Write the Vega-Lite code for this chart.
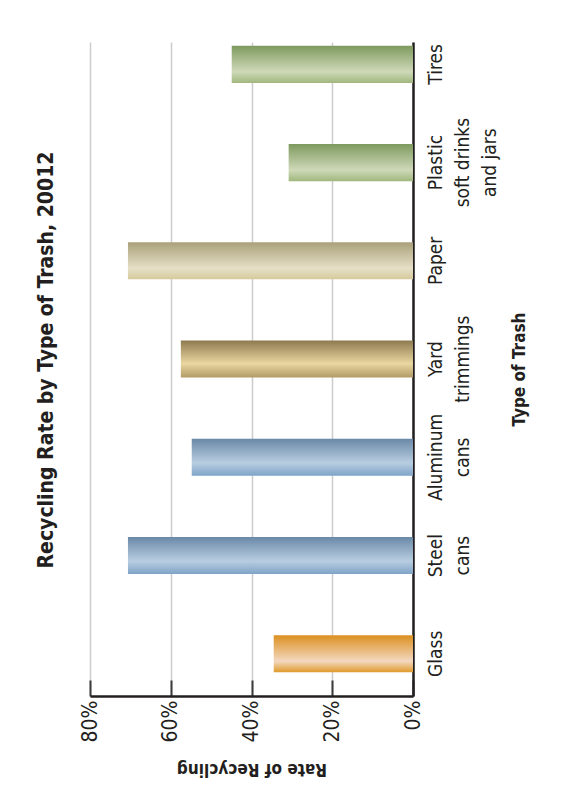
{
  "$schema": "https://vega.github.io/schema/vega-lite/v6.json",
  "width": 323,
  "height": 654,
  "autosize": {"type": "none"},
  "padding": {"left": 90, "top": 42, "right": 148, "bottom": 103},
  "background": "white",
  "config": {
    "view": {"stroke": null},
    "font": "DejaVu Sans Condensed, Liberation Sans, sans-serif"
  },
  "title": {
    "text": "Recycling Rate by Type of Trash, 20012",
    "orient": "left",
    "anchor": "middle",
    "frame": "group",
    "fontSize": 21,
    "fontWeight": "bold",
    "color": "#231f20",
    "offset": 22,
    "dx": 9
  },
  "data": {
    "values": [
      {"type": "Glass", "rate": 34.5},
      {"type": "Steel cans", "rate": 70.6},
      {"type": "Aluminum cans", "rate": 54.8},
      {"type": "Yard trimmings", "rate": 57.5},
      {"type": "Paper", "rate": 70.6},
      {"type": "Plastic soft drinks and jars", "rate": 30.8},
      {"type": "Tires", "rate": 44.9}
    ]
  },
  "encoding": {
    "y": {
      "field": "type",
      "type": "nominal",
      "scale": {
        "domain": ["Tires", "Plastic soft drinks and jars", "Paper", "Yard trimmings", "Aluminum cans", "Steel cans", "Glass"],
        "paddingInner": 0.623,
        "paddingOuter": 0.14,
        "align": 0.14
      },
      "axis": {
        "orient": "right",
        "title": "Type of Trash",
        "titleAngle": 270,
        "titleBaseline": "top",
        "titleFontSize": 17,
        "titleFontWeight": "bold",
        "titleColor": "#231f20",
        "titlePadding": 12,
        "domain": true,
        "domainColor": "#231f20",
        "domainWidth": 2.5,
        "ticks": false,
        "grid": false,
        "labelAngle": 270,
        "labelAlign": "center",
        "labelBaseline": "top",
        "labelPadding": 13,
        "labelFontSize": 19,
        "labelLineHeight": 27,
        "labelColor": "#231f20",
        "labelExpr": "datum.label == 'Plastic soft drinks and jars' ? ['Plastic', 'soft drinks', 'and jars'] : split(datum.label, ' ')"
      }
    },
    "x": {
      "field": "rate",
      "type": "quantitative",
      "scale": {"domain": [0, 80], "reverse": true, "nice": false},
      "axis": {
        "orient": "bottom",
        "title": "Rate of Recycling",
        "titleAngle": 180,
        "titleBaseline": "bottom",
        "titleFontSize": 17,
        "titleFontWeight": "bold",
        "titleColor": "#231f20",
        "titlePadding": 18,
        "values": [0, 20, 40, 60, 80],
        "labelExpr": "datum.value + '%'",
        "labelAngle": 270,
        "labelAlign": "right",
        "labelBaseline": "middle",
        "labelFontSize": 21,
        "labelColor": "#231f20",
        "labelPadding": 20,
        "domainColor": "#231f20",
        "domainWidth": 2.5,
        "tickColor": "#3a3a3a",
        "tickWidth": 2,
        "tickSize": -16,
        "grid": true,
        "gridColor": "#cccccc",
        "gridWidth": 1.5
      }
    }
  },
  "layer": [
    {
      "transform": [{"filter": "datum.type == 'Glass'"}],
      "mark": {"type": "bar", "color": {"gradient": "linear", "x1": 0, "y1": 0, "x2": 0, "y2": 1, "stops": [
        {"offset": 0, "color": "#dc9020"}, {"offset": 0.7, "color": "#f3d8c0"}, {"offset": 1, "color": "#df9a28"}]}}
    },
    {
      "transform": [{"filter": "datum.type == 'Steel cans' || datum.type == 'Aluminum cans'"}],
      "mark": {"type": "bar", "color": {"gradient": "linear", "x1": 0, "y1": 0, "x2": 0, "y2": 1, "stops": [
        {"offset": 0, "color": "#6a89a7"}, {"offset": 0.65, "color": "#b8cde1"}, {"offset": 1, "color": "#7ea3c7"}]}}
    },
    {
      "transform": [{"filter": "datum.type == 'Yard trimmings'"}],
      "mark": {"type": "bar", "color": {"gradient": "linear", "x1": 0, "y1": 0, "x2": 0, "y2": 1, "stops": [
        {"offset": 0, "color": "#8e7a50"}, {"offset": 0.62, "color": "#ead6a0"}, {"offset": 1, "color": "#b09a66"}]}}
    },
    {
      "transform": [{"filter": "datum.type == 'Paper'"}],
      "mark": {"type": "bar", "color": {"gradient": "linear", "x1": 0, "y1": 0, "x2": 0, "y2": 1, "stops": [
        {"offset": 0, "color": "#aaa07a"}, {"offset": 0.7, "color": "#e6e0c7"}, {"offset": 1, "color": "#d6c99a"}]}}
    },
    {
      "transform": [{"filter": "datum.type == 'Plastic soft drinks and jars' || datum.type == 'Tires'"}],
      "mark": {"type": "bar", "color": {"gradient": "linear", "x1": 0, "y1": 0, "x2": 0, "y2": 1, "stops": [
        {"offset": 0, "color": "#7e9a5e"}, {"offset": 0.7, "color": "#cfd9b9"}, {"offset": 1, "color": "#a0b87c"}]}}
    }
  ]
}
